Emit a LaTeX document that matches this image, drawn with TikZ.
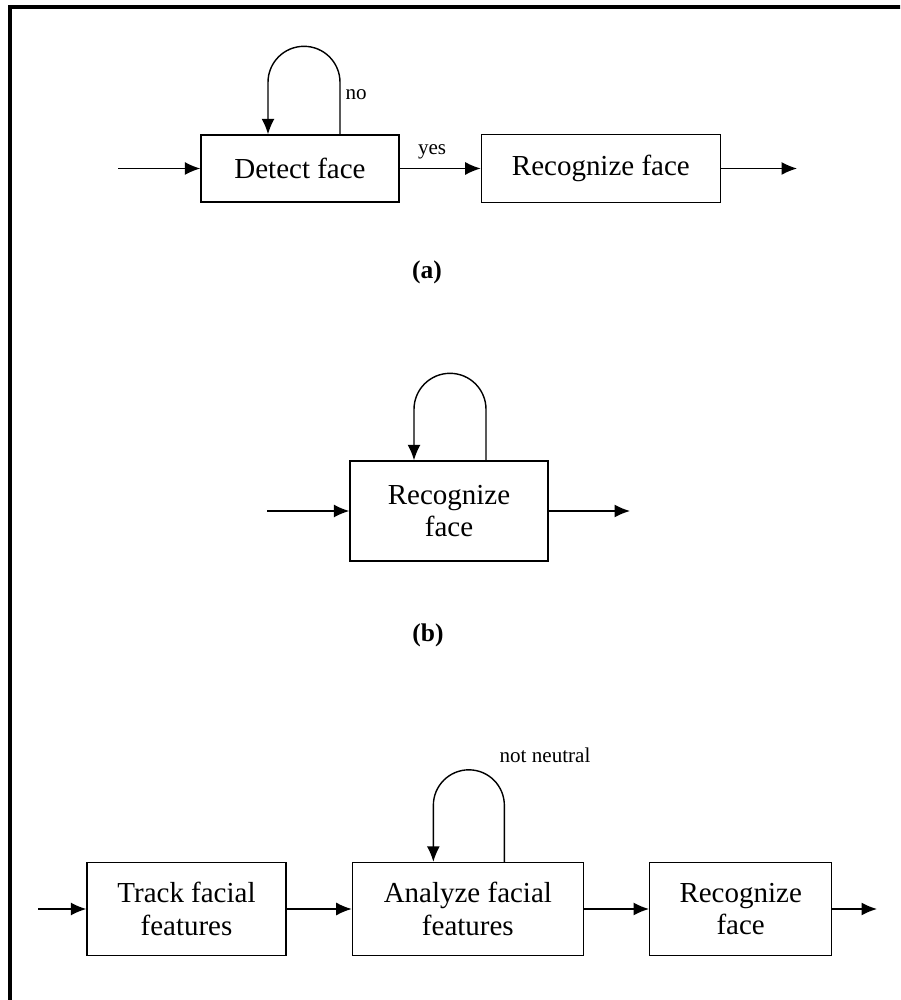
\documentclass[tikz,border=0pt]{standalone}
\usepackage{fontspec}
\setmainfont{Liberation Serif}
\usepackage{tikz}
\usetikzlibrary{arrows.meta, positioning}
\tikzset{
  blk/.style = {draw=black, rectangle, align=center, inner sep=0pt,
    font=\fontsize{16.5}{18.7}\selectfont},
  lab/.style = {inner sep=0pt, font=\fontsize{12}{14}\selectfont},
  tag/.style = {inner sep=0pt, font=\fontsize{14.5}{16}\selectfont\bfseries}
}

\begin{document}
\begin{tikzpicture}[->, >={Latex[length=3.1mm, width=2.6mm]}, line width=0.8pt,
x=0.02cm, y=0.02cm]
\useasboundingbox (0,0) rectangle (900,1000);
\clip (0,0) rectangle (900,1000);
\draw [-, line width=1.8pt] (10,-20) -- (10,993) -- (920,993);

% (a)
\node [blk, minimum width=3.96cm, minimum height=1.34cm] (detect) at (300,831.5) {Detect face};
\node [blk, minimum width=4.78cm, minimum height=1.36cm, right=1.62cm of detect] (recA) {Recognize face};
\coordinate (inA) at (118,831.5);
\coordinate (outA) at (797,831.5);
\draw (inA) -- (detect);
\draw (detect) -- node [lab, pos=0.4, above=0.17cm] {yes} (recA);
\draw (recA) -- (outA);
\draw ([xshift=0.8cm]detect.north) -- node [lab, pos=0.77, right=0.1cm] {no} ++(0,1.04cm)
  arc [start angle=0, end angle=180, radius=0.72cm] -- ([xshift=-0.64cm]detect.north);
\node [tag] (capA) at (427,728) {(a)};

% (b)
\node [blk, minimum width=3.96cm, minimum height=2cm] (recB) at (449,489) {Recognize\\face};
\coordinate (inB) at (267,489);
\coordinate (outB) at (630,489);
\draw (inB) -- (recB);
\draw (recB) -- (outB);
\draw ([xshift=0.74cm]recB.north) -- ++(0,1.02cm)
  arc [start angle=0, end angle=180, radius=0.72cm] -- ([xshift=-0.7cm]recB.north);
\node [tag] (capB) at (428,365) {(b)};

% (c)
\node [blk, minimum width=3.98cm, minimum height=1.86cm] (track) at (186.5,91) {Track facial\\features};
\node [blk, minimum width=4.62cm, minimum height=1.86cm, right=1.3cm of track] (analyze) {Analyze facial\\features};
\node [blk, minimum width=3.64cm, minimum height=1.86cm, right=1.3cm of analyze] (recC) {Recognize\\face};
\coordinate (inC) at (38,91);
\coordinate (outC) at (877,91);
\draw (inC) -- (track);
\draw (track) -- (analyze);
\draw (analyze) -- (recC);
\draw (recC) -- (outC);
\draw ([xshift=0.73cm]analyze.north) -- ++(0,1.13cm)
  arc [start angle=0, end angle=180, radius=0.71cm] -- ([xshift=-0.69cm]analyze.north);
\node [lab] (nn) at (545,245) {not neutral};
\end{tikzpicture}
\end{document}
